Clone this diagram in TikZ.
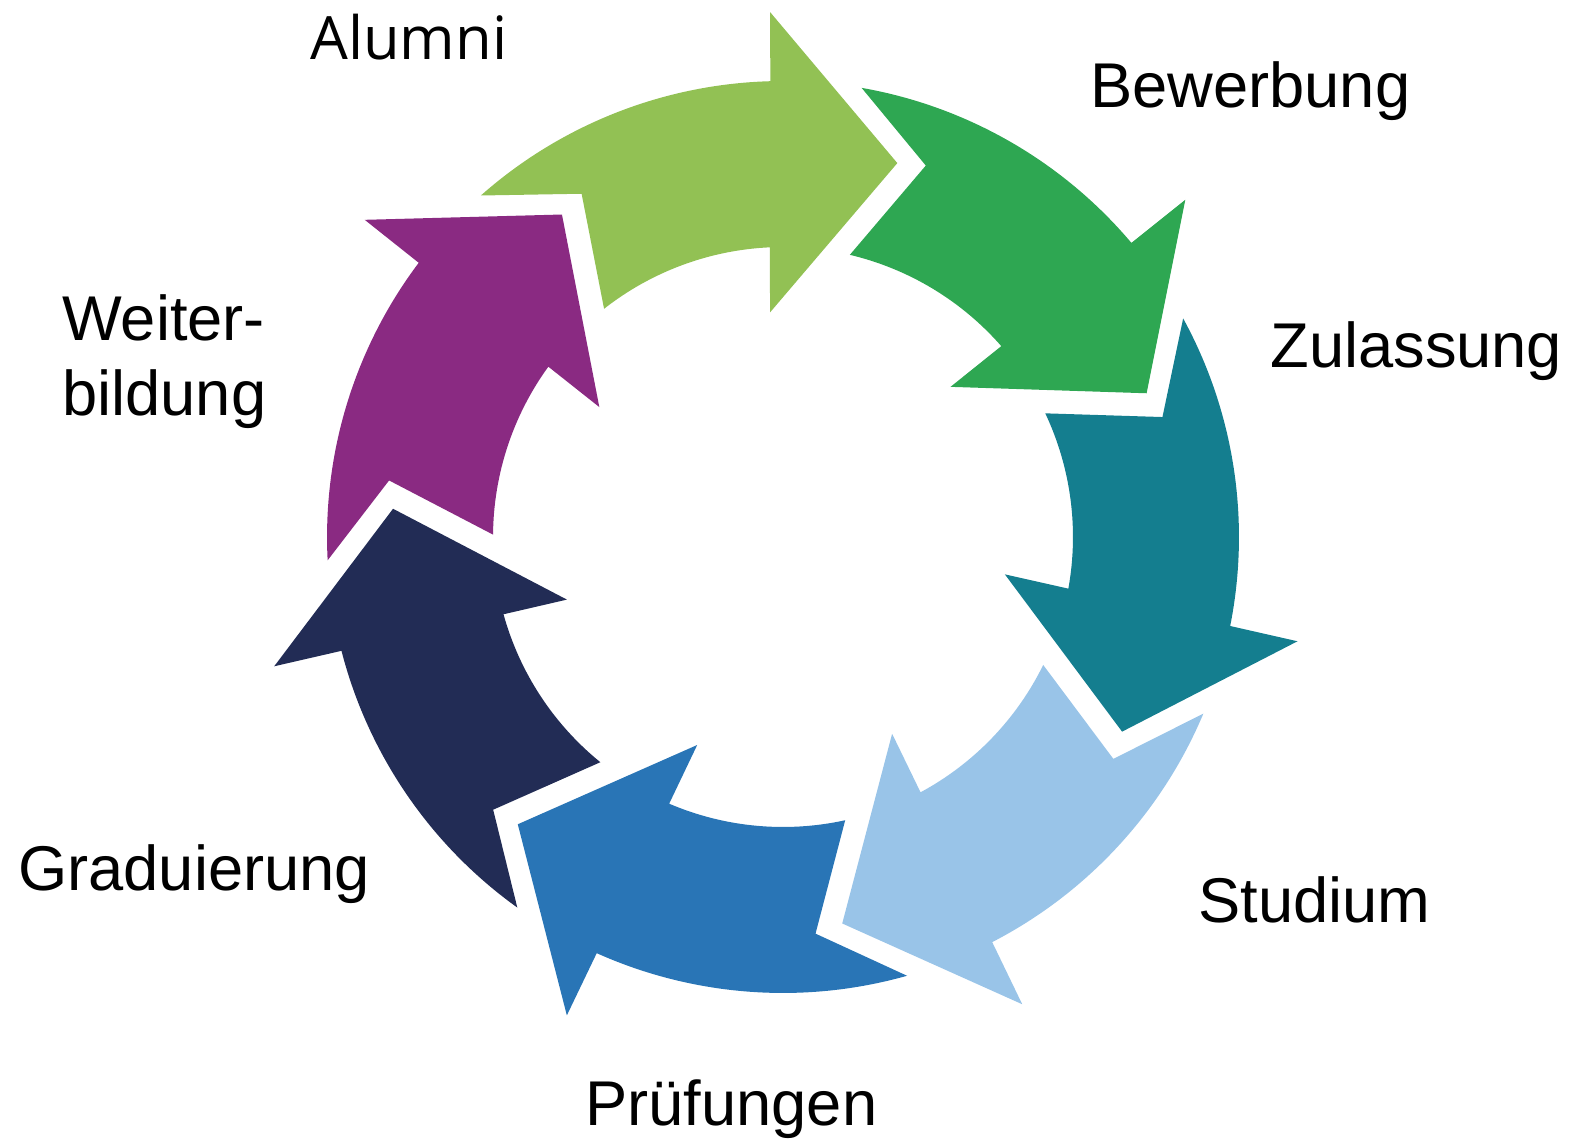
\documentclass[tikz,border=0pt]{standalone}
\usepackage{fontspec}
\setmainfont{Liberation Sans}
\newfontfamily\alumnifont{Open Sans}
\definecolor{lgreen}{RGB}{146,193,84}
\definecolor{dgreen}{RGB}{46,167,82}
\definecolor{petrol}{RGB}{20,126,143}
\definecolor{lblue}{RGB}{153,196,232}
\definecolor{mblue}{RGB}{41,117,182}
\definecolor{navy}{RGB}{34,44,85}
\definecolor{violet}{RGB}{138,42,130}

\begin{document}
\begin{tikzpicture}[x=0.02cm,y=0.02cm,
  lbl/.style={anchor=base west,inner sep=0pt,font=\fontsize{36}{43}\selectfont},
  arrowat/.style={shift={(783,-537)},rotate=#1}]
  \useasboundingbox (0,0) rectangle (1573,-1143);
  % arrows
  \foreach \col [count=\k from 0] in {lgreen,dgreen,petrol,lblue,mblue,navy,violet}
    \fill[\col,arrowat=-\k*360/7] (131.5:456) arc[start angle=131.5,end angle=91.6,radius=456]
      -- (91.4:525) -- (73:391) -- (93.3:225) -- (92.6:290)
      arc[start angle=92.6,end angle=128.1,radius=290] -- (120.4:398) -- cycle;
  % labels
  \node[lbl,font=\alumnifont\fontsize{34}{41}\selectfont] (alumni) at (310,-59) {Alumni};
  \node[lbl] (bewerbung) at (1090,-107) {Bewerbung};
  \node[lbl] (zulassung) at (1270,-367) {Zulassung};
  \node[lbl] (studium) at (1198,-922) {Studium};
  \node[lbl] (pruefungen) at (585,-1125) {Prüfungen};
  \node[lbl] (graduierung) at (18,-890) {Graduierung};
  \node[lbl] (weiter) at (62,-340) {Weiter-};
  \node[lbl] (bildung) at (62,-415) {bildung};
\end{tikzpicture}
\end{document}
